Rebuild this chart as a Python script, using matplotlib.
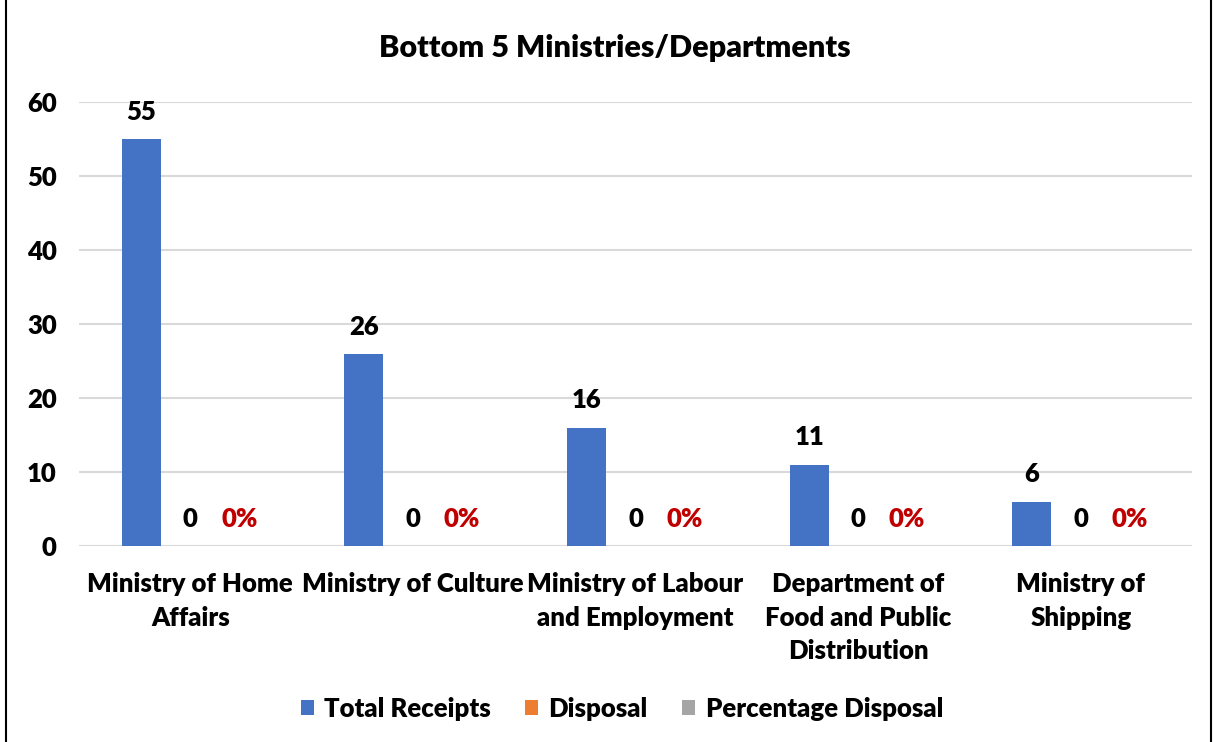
import matplotlib
matplotlib.use('Agg')
import matplotlib.pyplot as plt
import numpy as np
from matplotlib.patches import Rectangle

plt.rcParams['font.family'] = ['Lato', 'DejaVu Sans']
plt.rcParams['font.weight'] = 'heavy'

categories = ['Ministry of Home\nAffairs', 'Ministry of Culture', 'Ministry of Labour\nand Employment',
              'Department of\nFood and Public\nDistribution', 'Ministry of\nShipping']
total_receipts = [55, 26, 16, 11, 6]
disposal = [0, 0, 0, 0, 0]
pct_disposal = [0, 0, 0, 0, 0]

fs = 18.5
fig = plt.figure(figsize=(12.17, 7.42), dpi=100)
ax = fig.add_axes([0.0649, 0.2642, 0.9146, 0.5983])

x = np.arange(len(categories))
w = 0.175
off = 0.22
ax.bar(x - off, total_receipts, w, color='#4472C4', label='Total Receipts', zorder=3)
ax.bar(x, disposal, w, color='#ED7D31', label='Disposal', zorder=3)
ax.bar(x + off, pct_disposal, w, color='#A5A5A5', label='Percentage Disposal', zorder=3)

for i in range(len(x)):
    ax.annotate(str(total_receipts[i]), (x[i] - off, total_receipts[i]), xytext=(0, 19.5),
                textcoords='offset points', ha='center', va='center', fontsize=fs)
    ax.annotate(str(disposal[i]), (x[i], disposal[i]), xytext=(0, 19.5),
                textcoords='offset points', ha='center', va='center', fontsize=fs)
    ax.annotate(f'{pct_disposal[i]}%', (x[i] + off, pct_disposal[i]), xytext=(0, 19.5),
                textcoords='offset points', ha='center', va='center', fontsize=fs,
                color='#C00000')

ax.set_xlim(-0.5, len(categories) - 0.5)
ax.set_ylim(0, 60)
ax.set_yticks(range(0, 61, 10))
ax.grid(axis='y', color='#D9D9D9', linewidth=1.5, zorder=0)
for s in ax.spines.values():
    s.set_visible(False)
ax.tick_params(length=0)
ax.tick_params(axis='y', labelsize=fs, pad=16)
ax.set_xticks(x)
ax.set_xticklabels(categories, fontsize=fs, linespacing=1.47)
ax.tick_params(axis='x', pad=19)

fig.text(0.505, 0.935, 'Bottom 5 Ministries/Departments', ha='center', va='center', fontsize=22)

fig.legend(loc='center', bbox_to_anchor=(0.511, 0.045), ncol=3, frameon=False,
           fontsize=fs, handlelength=0.5, handleheight=0.5, columnspacing=1.35, handletextpad=0.4)

fig.patches.append(Rectangle((6 / 1217, -0.1), (1211 - 6) / 1217, 1.2, transform=fig.transFigure,
                             fill=False, edgecolor='black', linewidth=1.5))

fig.savefig('out.png', dpi=100)
